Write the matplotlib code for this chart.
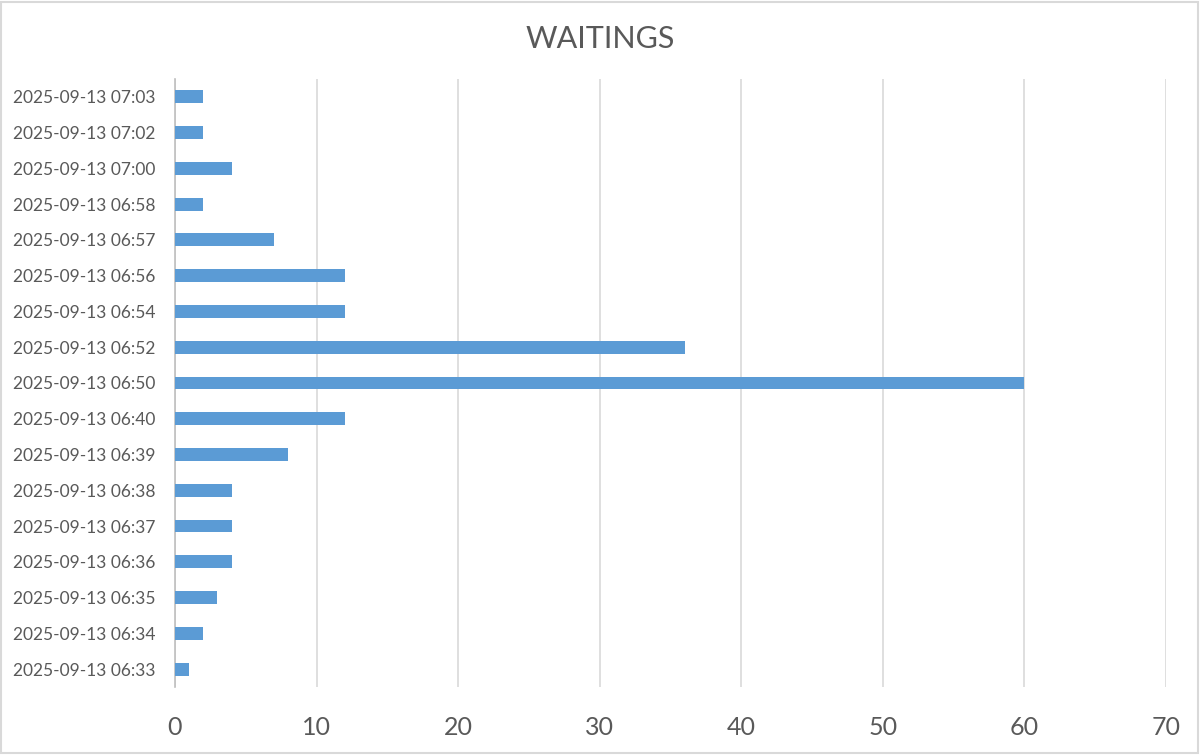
import matplotlib
matplotlib.use("Agg")
import matplotlib.pyplot as plt
from matplotlib.patches import Rectangle

labels = ["2025-09-13 06:33", "2025-09-13 06:34", "2025-09-13 06:35", "2025-09-13 06:36",
          "2025-09-13 06:37", "2025-09-13 06:38", "2025-09-13 06:39", "2025-09-13 06:40",
          "2025-09-13 06:50", "2025-09-13 06:52", "2025-09-13 06:54", "2025-09-13 06:56",
          "2025-09-13 06:57", "2025-09-13 06:58", "2025-09-13 07:00", "2025-09-13 07:02",
          "2025-09-13 07:03"]
values = [1, 2, 3, 4, 4, 4, 8, 12, 60, 36, 12, 12, 7, 2, 4, 2, 2]
xticks = [0, 10, 20, 30, 40, 50, 60, 70]

plt.rcParams['font.family'] = ['Lato', 'DejaVu Sans']
text_color = '#595959'
grid_color = '#d9d9d9'

fig = plt.figure(figsize=(12, 7.55), dpi=100)
ax = fig.add_axes([0.1458, 0.0901, 0.8259, 0.8053])

ax.barh(range(len(labels)), values, height=0.36, color='#5b9bd5', zorder=3)

ax.set_xlim(0, 70)
ax.set_ylim(-0.5, len(labels) - 0.5)
ax.set_xticks(xticks)
ax.set_yticks(range(len(labels)))
ax.set_yticklabels(labels)
ax.tick_params(axis='y', length=0, pad=14, labelsize=12.5, labelcolor=text_color)
ax.tick_params(axis='x', length=0, pad=21, labelsize=18, labelcolor=text_color)
ax.grid(axis='x', color=grid_color, linewidth=1.2, zorder=0)
for s in ['top', 'right', 'bottom']:
    ax.spines[s].set_visible(False)
ax.spines['left'].set_color('#bfbfbf')
ax.spines['left'].set_linewidth(1.2)

fig.text(0.5, 0.949, "WAITINGS", ha='center', va='center', fontsize=22, color=text_color)

fig.patches.append(Rectangle((0.001, 0.002), 0.997, 0.996, transform=fig.transFigure,
                             fill=False, edgecolor='#d9d9d9', linewidth=1.5))

fig.savefig("out.png", dpi=100, facecolor='white')
